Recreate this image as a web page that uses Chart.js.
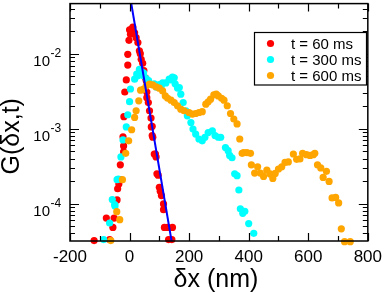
<!DOCTYPE html>
<html><head><meta charset="utf-8">
<script src="https://cdn.jsdelivr.net/npm/chart.js@4/dist/chart.umd.min.js"></script>
<style>html,body{margin:0;padding:0;background:#fff;}canvas{display:block;}</style>
</head><body>
<canvas id="c" width="388" height="293"></canvas>
<script>
const seriesLabels = ['t = 60 ms', 't = 300 ms', 't = 600 ms'];
const seriesColors = ['#ff0000', '#00ffff', '#ffa500'];
const red60 = [[-119,3.2e-5],[-67,3.3e-5],[-78,6.4e-5],[-56,4.8e-5],[-52,6.4e-5],[-42,1.12e-4],[-40,1.58e-4],[-36,1.83e-4],[-32,2.09e-4],[-31,3.3e-4],[-20,4.9e-4],[-20,5.9e-4],[-22,7.8e-4],[-19,1.45e-3],[-16,3.1e-3],[-11,4.5e-3],[-6,7.1e-3],[-6,9.9e-3],[-2,1.52e-2],[0,2.1e-2],[3,1.83e-2],[6,2.13e-2],[11,2.29e-2],[17,1.92e-2],[22,1.65e-2],[28,1.42e-2],[33,1.1e-2],[36,1.01e-2],[39,8.5e-3],[44,7.5e-3],[48,6.0e-3],[53,4.8e-3],[56,4.4e-3],[58,3.1e-3],[58,2.6e-3],[63,2.24e-3],[67,1.74e-3],[72,1.39e-3],[73,1.06e-3],[76,1.08e-3],[76,8.1e-4],[78,7.7e-4],[83,4.6e-4],[87,4.6e-4],[89,4.2e-4],[92,2.5e-4],[96,2.4e-4],[100,1.65e-4],[103,1.46e-4],[107,1.28e-4],[114,9.9e-5],[114,8.3e-5],[117,4.8e-5],[128,4.8e-5],[144,4.8e-5],[131,3.3e-5],[142,3.3e-5]];
const cyan300 = [[-87,3.3e-5],[-67,5.5e-5],[-58,1.13e-4],[-50,9.7e-5],[-49,9.3e-5],[-42,2.09e-4],[-38,2.13e-4],[-29,4.2e-4],[-22,7.1e-4],[-11,1.06e-3],[-6,1.54e-3],[0,2.3e-3],[3,3.4e-3],[17,4.6e-3],[24,5.4e-3],[28,5.1e-3],[33,6.25e-3],[39,5.8e-3],[47,5.6e-3],[47,5.1e-3],[56,4.7e-3],[64,4.4e-3],[76,3.9e-3],[83,4.0e-3],[91,3.6e-3],[100,3.9e-3],[106,3.7e-3],[111,4.1e-3],[122,4.1e-3],[133,4.6e-3],[139,4.5e-3],[144,4.9e-3],[150,4.8e-3],[153,4.0e-3],[161,3.5e-3],[167,3.56e-3],[172,2.9e-3],[180,2.24e-3],[189,1.74e-3],[194,1.49e-3],[206,1.21e-3],[213,9.9e-4],[222,8.5e-4],[233,7.3e-4],[244,6.9e-4],[253,7.7e-4],[264,8.9e-4],[278,9.4e-4],[287,8.1e-4],[298,7.7e-4],[306,7.7e-4],[322,5.6e-4],[331,5.1e-4],[336,4.4e-4],[344,4.1e-4],[353,2.5e-4],[361,2.36e-4],[367,1.52e-4],[372,8.5e-5],[380,7.4e-5],[387,7.9e-5],[400,5.4e-5],[417,4.0e-5]];
const orange600 = [[-63,3.2e-5],[-33,6.1e-5],[-43,7.8e-5],[-24,2.09e-4],[-13,4.7e-4],[-3,6.9e-4],[7,9.7e-4],[17,1.42e-3],[22,1.74e-3],[31,2.36e-3],[37,3.28e-3],[47,3.38e-3],[56,3.74e-3],[67,3.94e-3],[78,3.86e-3],[89,3.63e-3],[100,3.49e-3],[111,3.21e-3],[120,2.75e-3],[128,2.56e-3],[139,2.41e-3],[150,2.24e-3],[161,2.03e-3],[172,1.83e-3],[183,1.74e-3],[200,1.65e-3],[211,1.57e-3],[222,1.6e-3],[233,1.65e-3],[244,1.69e-3],[256,2.13e-3],[264,2.29e-3],[272,2.49e-3],[283,2.84e-3],[291,2.9e-3],[298,2.75e-3],[309,2.56e-3],[317,2.41e-3],[328,2.03e-3],[339,1.6e-3],[350,1.35e-3],[361,1.16e-3],[370,7.3e-4],[378,4.7e-4],[383,4.8e-4],[394,4.8e-4],[406,4.7e-4],[409,3.3e-4],[420,2.56e-4],[430,3.1e-4],[439,2.56e-4],[450,2.31e-4],[461,2.8e-4],[472,2.49e-4],[481,2.17e-4],[489,2.53e-4],[500,2.9e-4],[511,3.1e-4],[522,3.55e-4],[533,3.6e-4],[550,4.6e-4],[561,3.9e-4],[572,3.95e-4],[581,4.7e-4],[594,4.5e-4],[606,4.4e-4],[617,4.5e-4],[622,4.7e-4],[631,3.3e-4],[642,3.0e-4],[650,2.24e-4],[661,2.7e-4],[670,1.98e-4],[680,1.19e-4],[692,1.21e-4],[702,1.02e-4],[711,4.6e-5],[722,3.1e-5],[741,3.1e-5]];
const fitLine = [[0,0.0641],[150,1.95e-5]];
const xTickValues = [-200, 0, 200, 400, 600, 800];
const yDecadeExponents = [-4, -3, -2];
const xTitle = 'δx (nm)';
const yTitle = 'G(δx,t)';

const FONT = '"Liberation Sans", Arial, Helvetica, sans-serif';
const toXY = a => a.map(p => ({x: p[0], y: p[1]}));

const decor = {
  id: 'decor',
  afterDatasetsDraw(chart) {
    const {ctx, chartArea: a, scales: {x, y}} = chart;
    ctx.save();
    ctx.strokeStyle = '#000';
    ctx.lineWidth = 1.2;
    ctx.beginPath();
    for (let v = x.min; v <= x.max; v += 100) {
      const px = Math.round(x.getPixelForValue(v)) + 0.5;
      const L = xTickValues.includes(v) ? 8 : 5;
      ctx.moveTo(px, a.bottom); ctx.lineTo(px, a.bottom - L);
      ctx.moveTo(px, a.top); ctx.lineTo(px, a.top + L);
    }
    for (let e = -6; e <= 0; e++) {
      for (let m = 1; m <= 9; m++) {
        const v = m * Math.pow(10, e);
        if (v < y.min || v > y.max) continue;
        const py = Math.round(y.getPixelForValue(v)) + 0.5;
        const L = m === 1 ? 9 : 5;
        ctx.moveTo(a.left, py); ctx.lineTo(a.left + L, py);
        ctx.moveTo(a.right, py); ctx.lineTo(a.right - L, py);
      }
    }
    ctx.stroke();
    ctx.lineWidth = 1.5;
    ctx.strokeRect(a.left, a.top, a.right - a.left, a.bottom - a.top);

    // y tick labels
    ctx.fillStyle = '#000';
    yDecadeExponents.forEach(e => {
      const py = y.getPixelForValue(Math.pow(10, e));
      ctx.font = '15px ' + FONT;
      ctx.textAlign = 'right'; ctx.textBaseline = 'alphabetic';
      ctx.fillText('10', a.left - 20, py + 12);
      ctx.font = '12px ' + FONT;
      ctx.textAlign = 'left';
      ctx.fillText(String(e), a.left - 19.5, py + 3);
    });

    // axis titles
    ctx.font = '25px ' + FONT;
    ctx.textAlign = 'center'; ctx.textBaseline = 'alphabetic';
    ctx.fillText(xTitle, (a.left + a.right) / 2 - 3, 287);
    ctx.save();
    ctx.translate(19, (a.top + a.bottom) / 2 + 14);
    ctx.rotate(-Math.PI / 2);
    ctx.fillText(yTitle, 0, 0);
    ctx.restore();

    // legend
    const bx = 254.5, by = 32.5, bw = 112, bh = 52.5;
    ctx.fillStyle = '#fff';
    ctx.fillRect(bx, by, bw, bh);
    ctx.lineWidth = 1.2;
    ctx.strokeRect(bx, by, bw, bh);
    ctx.font = '15px ' + FONT;
    ctx.textAlign = 'left'; ctx.textBaseline = 'middle';
    const sets = chart.data.datasets.filter(d => d.legend);
    sets.forEach((d, i) => {
      const ry = 43.5 + i * 16;
      ctx.fillStyle = d.backgroundColor;
      ctx.beginPath(); ctx.arc(270.5, ry, 3.6, 0, Math.PI * 2); ctx.fill();
      ctx.fillStyle = '#000';
      ctx.fillText(d.label, 291, ry + 1);
    });
    ctx.restore();
  }
};

const scatterSet = (label, data, color, order) => ({
  type: 'scatter', label, data: toXY(data), legend: true,
  backgroundColor: color, borderColor: color, borderWidth: 0,
  pointRadius: 3.6, pointHoverRadius: 3.6, order, clip: false
});

new Chart(document.getElementById('c'), {
  type: 'scatter',
  data: {
    datasets: [
      scatterSet(seriesLabels[0], red60, seriesColors[0], 4),
      scatterSet(seriesLabels[1], cyan300, seriesColors[1], 3),
      scatterSet(seriesLabels[2], orange600, seriesColors[2], 2),
      { type: 'line', label: 'fit', data: toXY(fitLine), borderColor: '#0000ff', borderWidth: 2,
        pointRadius: 0, fill: false, tension: 0, order: 1 }
    ]
  },
  options: {
    responsive: false, animation: false, devicePixelRatio: 1,
    layout: { padding: { left: 0, right: 18, top: 2.5, bottom: 0 } },
    plugins: { legend: { display: false }, tooltip: { enabled: false } },
    scales: {
      x: {
        type: 'linear', min: -200, max: 800,
        afterFit: s => { s.height = 52; },
        afterBuildTicks: s => { s.ticks = xTickValues.map(v => ({ value: v })); },
        grid: { display: false, drawTicks: false }, border: { display: false },
        ticks: { color: '#000', font: { family: FONT, size: 17 }, padding: 6, autoSkip: false, maxRotation: 0,
                 callback: v => String(v) }
      },
      y: {
        type: 'logarithmic', min: Math.pow(10, -4.5), max: Math.pow(10, -1.327),
        afterFit: s => { s.width = 70; },
        grid: { display: false, drawTicks: false }, border: { display: false },
        ticks: { display: false }
      }
    }
  },
  plugins: [decor]
});
</script>
</body></html>
